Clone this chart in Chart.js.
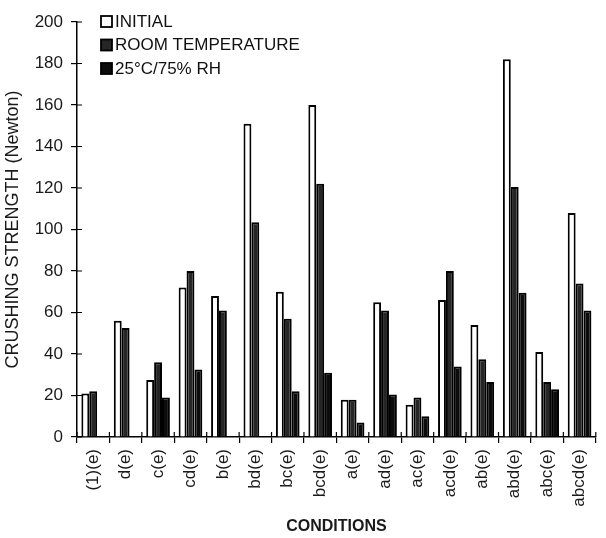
<!DOCTYPE html>
<html>
<head>
<meta charset="utf-8">
<script src="https://cdn.jsdelivr.net/npm/chart.js@4"></script>
<style>
  html, body { margin: 0; padding: 0; background: #fff; }
  #wrap { width: 606px; height: 538px; }
</style>
</head>
<body>
<div id="wrap"><canvas id="crushChart"></canvas></div>
<script>
const categories = ['(1)(e)', 'd(e)', 'c(e)', 'cd(e)', 'b(e)', 'bd(e)', 'bc(e)', 'bcd(e)',
    'a(e)', 'ad(e)', 'ac(e)', 'acd(e)', 'ab(e)', 'abd(e)', 'abc(e)', 'abcd(e)'];
const initial = [21, 56, 27.5, 72, 68, 151, 70, 160, 18, 65, 15.5, 66, 54, 182, 41, 108];
const roomTemp = [22, 52.5, 36, 80, 61, 103.5, 57, 122, 18, 61, 19, 80, 37.5, 120.5, 26.5, 74];
const humid = [null, null, 19, 32.5, null, null, 22, 31, 7, 20.5, 10, 34, 26.5, 69.5, 23, 61];
const seriesNames = ['INITIAL', 'ROOM TEMPERATURE', '25°C/75% RH'];
const yTicks = [0, 20, 40, 60, 80, 100, 120, 140, 160, 180, 200];

const FONT = "'Liberation Sans', Arial, sans-serif";
const fills = ['#ffffff', '#262626', '#0c0c0c'];

// legend drawn inside the plot, stacked
const boxLegend = {
    id: 'boxLegend',
    afterDraw(chart) {
        const ctx = chart.ctx;
        ctx.save();
        ctx.font = '17px ' + FONT;
        ctx.textBaseline = 'middle';
        chart.data.datasets.forEach((ds, i) => {
            const y = 22 + i * 23.5;
            ctx.fillStyle = fills[i];
            ctx.fillRect(101, y - 6, 11, 11);
            ctx.strokeStyle = '#000';
            ctx.lineWidth = 1.8;
            ctx.strokeRect(101, y - 6, 11, 11);
            ctx.fillStyle = '#111';
            ctx.fillText(ds.label, 115, y);
        });
        ctx.restore();
    }
};

// small marks on the inner side of the axes so ticks cross them
const innerTicks = {
    id: 'innerTicks',
    afterDraw(chart) {
        const ctx = chart.ctx;
        const ys = chart.scales.y, xs = chart.scales.x;
        ctx.save();
        ctx.strokeStyle = '#000';
        ctx.lineWidth = 1.2;
        ctx.beginPath();
        yTicks.forEach(v => {
            const p = ys.getPixelForValue(v);
            ctx.moveTo(ys.right, p);
            ctx.lineTo(ys.right + 5, p);
        });
        for (let i = 0; i <= categories.length; i++) {
            const p = xs.getPixelForValue(i - 0.5);
            ctx.moveTo(p, xs.top);
            ctx.lineTo(p, xs.top - 5);
        }
        ctx.stroke();
        ctx.restore();
    }
};

const barStyle = {
    borderColor: '#000',
    borderWidth: 2,
    categoryPercentage: 0.73,
    barPercentage: 1.0
};

new Chart(document.getElementById('crushChart'), {
    type: 'bar',
    data: {
        labels: categories,
        datasets: [
            Object.assign({ label: seriesNames[0], data: initial, backgroundColor: fills[0] }, barStyle),
            Object.assign({ label: seriesNames[1], data: roomTemp, backgroundColor: fills[1] }, barStyle),
            Object.assign({ label: seriesNames[2], data: humid, backgroundColor: fills[2] }, barStyle)
        ]
    },
    options: {
        responsive: true,
        maintainAspectRatio: false,
        animation: false,
        layout: { padding: { top: 22, right: 1, left: 0, bottom: 0 } },
        scales: {
            y: {
                min: 0,
                max: 200,
                afterBuildTicks: s => { s.ticks = yTicks.map(v => ({ value: v })); },
                afterFit: s => { s.width = 77; },
                border: { display: true, color: '#000', width: 1.5 },
                grid: { drawOnChartArea: false, color: '#000', tickLength: 6, lineWidth: 1.2 },
                ticks: { color: '#1a1a1a', font: { family: FONT, size: 17 }, padding: 8 },
                title: {
                    display: true,
                    text: 'CRUSHING STRENGTH (Newton)',
                    color: '#1a1a1a',
                    font: { family: FONT, size: 18 },
                    padding: { top: 2, bottom: 0 }
                }
            },
            x: {
                offset: true,
                afterFit: s => { s.height = 101; },
                border: { display: true, color: '#000', width: 1.5 },
                grid: { offset: true, drawOnChartArea: false, color: '#000', tickLength: 6, lineWidth: 1.2 },
                ticks: {
                    color: '#1a1a1a',
                    font: { family: FONT, size: 17 },
                    minRotation: 90,
                    maxRotation: 90,
                    padding: 6
                },
                title: {
                    display: true,
                    text: 'CONDITIONS',
                    color: '#1a1a1a',
                    font: { family: FONT, size: 16, weight: 'bold' },
                    padding: { top: 0, bottom: 2 }
                }
            }
        },
        plugins: {
            legend: { display: false },
            tooltip: { enabled: false }
        }
    },
    plugins: [boxLegend, innerTicks]
});
</script>
</body>
</html>
